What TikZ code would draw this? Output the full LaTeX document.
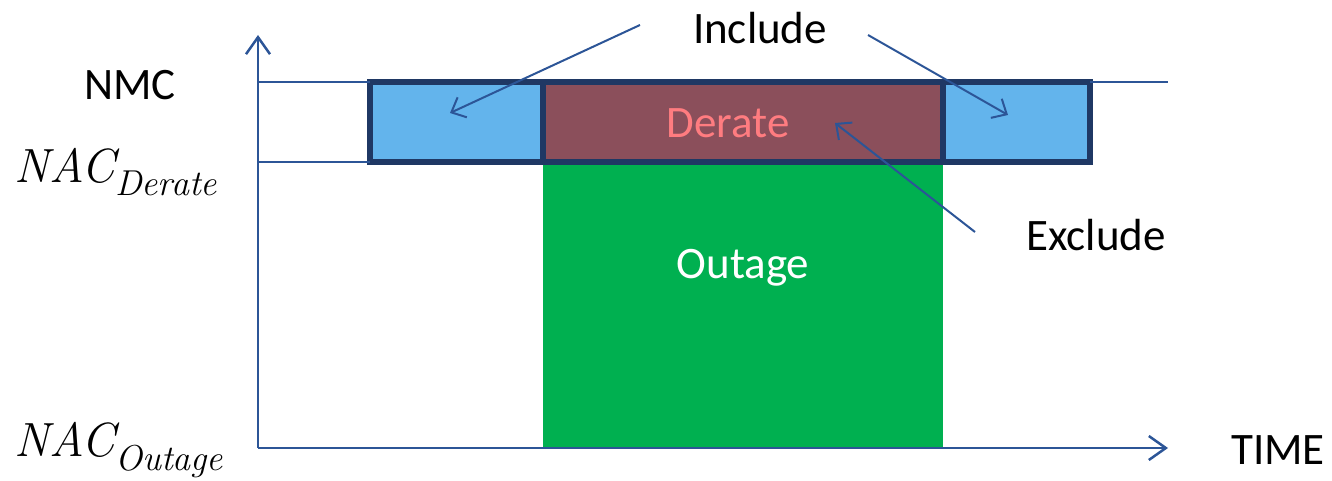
\documentclass[tikz,border=0pt]{standalone}
\usepackage{fontspec}
\setmainfont{Carlito}
\newfontfamily\varfont{Latin Modern Roman}
\usetikzlibrary{arrows.meta}
\definecolor{axisblue}{HTML}{2C5597}
\definecolor{barnavy}{HTML}{1F3864}
\definecolor{skyfill}{HTML}{63B4EC}
\definecolor{derfill}{HTML}{8B4F5B}
\definecolor{outfill}{HTML}{00B050}
\definecolor{dertext}{HTML}{FF7C80}
\newcommand{\capvar}[2]{{\varfont\itshape #1\raisebox{-0.28em}{\fontsize{36}{40}\selectfont #2}}}
\tikzset{
  axisline/.style={draw=axisblue, line width=2.5pt, -{Straight Barb[length=17pt,width=24pt,line width=2.5pt]}},
  levelline/.style={draw=axisblue, line width=1.5pt},
  callout/.style={draw=axisblue, line width=2pt, -{Straight Barb[length=12pt,width=22pt,line width=2pt]}},
  band/.style={draw=barnavy, line width=5.5pt, outer sep=0pt, inner sep=0pt, anchor=north west, minimum height=80pt},
  lbl/.style={font=\fontsize{45}{54}\selectfont, inner sep=0pt},
  mlbl/.style={font=\fontsize{48}{56}\selectfont, inner sep=0pt}
}
\begin{document}
\begin{tikzpicture}[x=1pt,y=-1pt]
\useasboundingbox (0,0) rectangle (1332,481);
% axes
\coordinate (origin) at (258,448);
\coordinate (ytop) at (258,35);
\coordinate (xend) at (1168,448);
\coordinate (nmcL) at (258,82);
\coordinate (nmcR) at (1168,82);
\coordinate (derL) at (258,162);
% outage block
\fill[outfill] (543,162) rectangle (943,448);
% capacity band: included side segments and derated middle
\node[band, fill=skyfill, minimum width=173pt] (incL) at (370,82) {};
\node[band, fill=skyfill, minimum width=147pt] (incR) at (943,82) {};
\node[band, fill=derfill, minimum width=400pt] (der) at (543,82) {};
\draw[levelline] (nmcL) -- (incL.north west);
\draw[levelline] (incR.north east) -- (nmcR);
\draw[levelline] (derL) -- (incL.south west);
\draw[axisline] (origin) -- (ytop);
\draw[axisline] (origin) -- (xend);
% labels
\node[lbl, text=dertext] (dertxt) at (728,123) {Derate};
\node[lbl, text=white] (outtxt) at (743,268) {Outage};
\node[lbl] (inc) at (760,28) {Include};
\node[lbl] (exc) at (1096,235) {Exclude};
\node[lbl] (nmc) at (130,85) {NMC};
\node[lbl] (time) at (1278,450) {TIME};
\node[mlbl, anchor=west] (nacd) at (14,172) {\capvar{NAC}{Derate}};
\node[mlbl, anchor=west] (naco) at (14,450) {\capvar{NAC}{Outage}};
% callout arrows
\coordinate (incA) at (640,25);
\coordinate (incB) at (868,35);
\coordinate (excA) at (975,232);
\coordinate (tipL) at (450,113);
\coordinate (tipR) at (1008,115);
\coordinate (tipD) at (835,123);
\draw[callout] (incA) -- (tipL);
\draw[callout] (incB) -- (tipR);
\draw[callout] (excA) -- (tipD);
\end{tikzpicture}
\end{document}
